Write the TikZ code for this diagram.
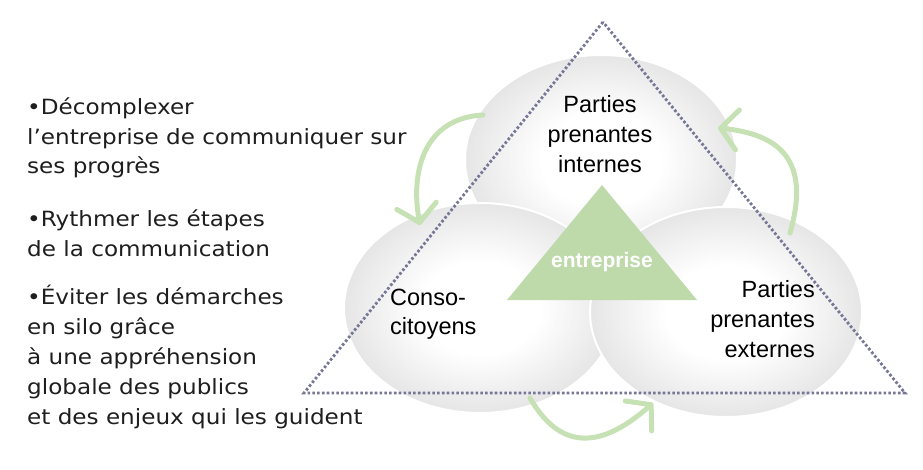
\documentclass[tikz,border=0pt]{standalone}
\usepackage{fontspec}
\setmainfont{Liberation Sans}
\newfontfamily\verd[FakeStretch=1.1]{DejaVu Sans}
\usetikzlibrary{shapes.geometric,arrows.meta}
\definecolor{dotc}{RGB}{118,118,150}
\definecolor{tri}{RGB}{190,218,170}
\definecolor{arr}{RGB}{198,225,180}
\definecolor{txt}{RGB}{30,30,30}
\pgfdeclareradialshading{bubbleshade}{\pgfpoint{0bp}{0bp}}{color(0bp)=(white); color(11bp)=(white); color(25bp)=(black!10); color(50bp)=(black!10)}
\begin{document}
\begin{tikzpicture}[x=1pt,y=-1pt,
 cloudy/.style={ellipse, minimum width=272pt, minimum height=210pt, shading=bubbleshade, draw=white, line width=2pt, inner sep=0pt},
 lab/.style={font=\fontsize{23.5}{30}\selectfont, inner sep=0pt, text=black},
 side/.style={font=\verd\fontsize{21}{29.5}\selectfont, inner sep=0pt, align=left, anchor=base west, text=txt},
 flow/.style={draw=arr, line width=5pt, line cap=round, -{Straight Barb[length=17pt,width=40pt,round]}},
 frame/.style={draw=dotc, line width=2.8pt, dash pattern=on 2.6pt off 2.2pt}]
\useasboundingbox (0,0) rectangle (923,470);
% bubbles
\node[cloudy] (top) at (601,160) {};
\node[cloudy] (left) at (480,308) {};
\node[cloudy] (right) at (726,312) {};
% central triangle
\coordinate (ta) at (602,185);
\coordinate (tb) at (507,300);
\coordinate (tc) at (697,300);
\fill[tri] (ta) -- (tb) -- (tc) -- cycle;
\node[font=\bfseries\fontsize{21}{24}\selectfont, text=white, inner sep=0pt] (ent) at (602,262) {entreprise};
% labels (base anchor = baseline of last line)
\node[lab, align=center, anchor=base] (lint) at (600,173) {Parties\\prenantes\\internes};
\node[lab, align=right, anchor=base east] (lext) at (815,357) {Parties\\prenantes\\externes};
\node[lab, align=left, anchor=base west, font=\fontsize{23.5}{29}\selectfont] (lcon) at (390,334) {Conso-\\citoyens};
% dotted frame
\coordinate (fa) at (603,22);
\coordinate (fb) at (304,393);
\coordinate (fc) at (905,393);
\draw[frame] (fa) -- (fb) -- (fc) -- cycle;
% arrows
\coordinate (a1s) at (483,115);
\coordinate (a1e) at (420,225);
\coordinate (a2s) at (530,398);
\coordinate (a2e) at (653,403);
\coordinate (a3s) at (790,233);
\coordinate (a3e) at (718,128);
\draw[flow] (a1s) .. controls (425,118) and (410,170) .. (a1e);
\draw[flow] (a2s) .. controls (560,450) and (600,450) .. (a2e);
\draw[flow] (a3s) .. controls (808,170) and (790,135) .. (a3e);
% side text (base anchor = baseline of last line)
\node[side] (p1) at (27,174) {•Décomplexer\\l’entreprise de communiquer sur\\ses progrès};
\node[side] (p2) at (27,256.5) {•Rythmer les étapes\\de la communication};
\node[side, font=\verd\fontsize{21}{30}\selectfont] (p3) at (27,424) {•Éviter les démarches\\en silo grâce\\à une appréhension\\globale des publics\\et des enjeux qui les guident};
\end{tikzpicture}
\end{document}
